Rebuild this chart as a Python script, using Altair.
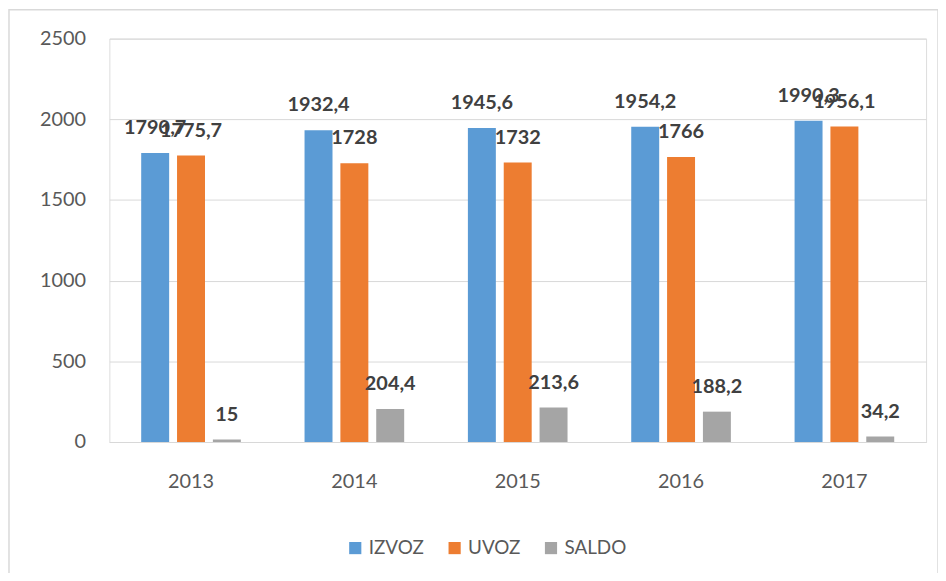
import altair as alt
import pandas as pd

years = ["2013", "2014", "2015", "2016", "2017"]
series = ["IZVOZ", "UVOZ", "SALDO"]
izvoz = [1790.7, 1932.4, 1945.6, 1954.2, 1990.3]
uvoz = [1775.7, 1728.0, 1732.0, 1766.0, 1956.1]
saldo = [15.0, 204.4, 213.6, 188.2, 34.2]
labels_izvoz = ["1790,7", "1932,4", "1945,6", "1954,2", "1990,3"]
labels_uvoz = ["1775,7", "1728", "1732", "1766", "1956,1"]
labels_saldo = ["15", "204,4", "213,6", "188,2", "34,2"]

rows = []
for vals, labs, s in [(izvoz, labels_izvoz, "IZVOZ"), (uvoz, labels_uvoz, "UVOZ"), (saldo, labels_saldo, "SALDO")]:
    for y, v, l in zip(years, vals, labs):
        rows.append({"year": y, "series": s, "value": v, "label": l})
df = pd.DataFrame(rows)

FONT = "Lato"
colors = ["#5B9BD5", "#ED7D31", "#A5A5A5"]

x = alt.X("year:N", sort=years, title=None,
          scale=alt.Scale(paddingInner=0.39, paddingOuter=0.195),
          axis=alt.Axis(labelAngle=0, labelFontSize=20, labelColor="#595959", labelFont=FONT,
                        ticks=False, domainColor="#d9d9d9", labelPadding=30))
xo = alt.XOffset("series:N", sort=series, scale=alt.Scale(paddingInner=0.22, paddingOuter=0))
y = alt.Y("value:Q", title=None,
          scale=alt.Scale(domain=[0, 2500]),
          axis=alt.Axis(values=[0, 500, 1000, 1500, 2000, 2500], format="d", labelFontSize=20,
                        labelColor="#595959", labelFont=FONT, ticks=False, domain=False,
                        gridColor="#d9d9d9", labelPadding=24))

bars = alt.Chart(df).mark_bar().encode(
    x=x, xOffset=xo, y=y,
    color=alt.Color("series:N", sort=series, scale=alt.Scale(domain=series, range=colors),
                    legend=alt.Legend(title=None, orient="none", legendX=238, legendY=503,
                                      direction="horizontal", symbolType="square",
                                      symbolSize=150, labelFontSize=19, labelColor="#595959",
                                      labelFont=FONT, columnPadding=21, symbolStrokeWidth=0)),
)

labels = alt.Chart(df).mark_text(
    fontSize=20, fontWeight="bold", color="#404040", font=FONT, baseline="middle", dy=-25
).encode(x=x, xOffset=xo, y=y, text="label:N")

frame = alt.Chart(pd.DataFrame([{"a": 1}])).mark_rect(fill=None, stroke="#d9d9d9", strokeWidth=1.5).encode(
    x=alt.value(-101), x2=alt.value(834), y=alt.value(-29), y2=alt.value(540)
)

chart = alt.layer(frame, bars, labels).properties(
    width=822, height=406,
    autosize=alt.AutoSizeParams(type="none"),
    padding={"left": 102, "top": 29, "right": 12, "bottom": 130},
).configure_view(stroke=None).configure(background="white")

chart.save("out.html", embed_options={"renderer": "svg", "actions": False})
